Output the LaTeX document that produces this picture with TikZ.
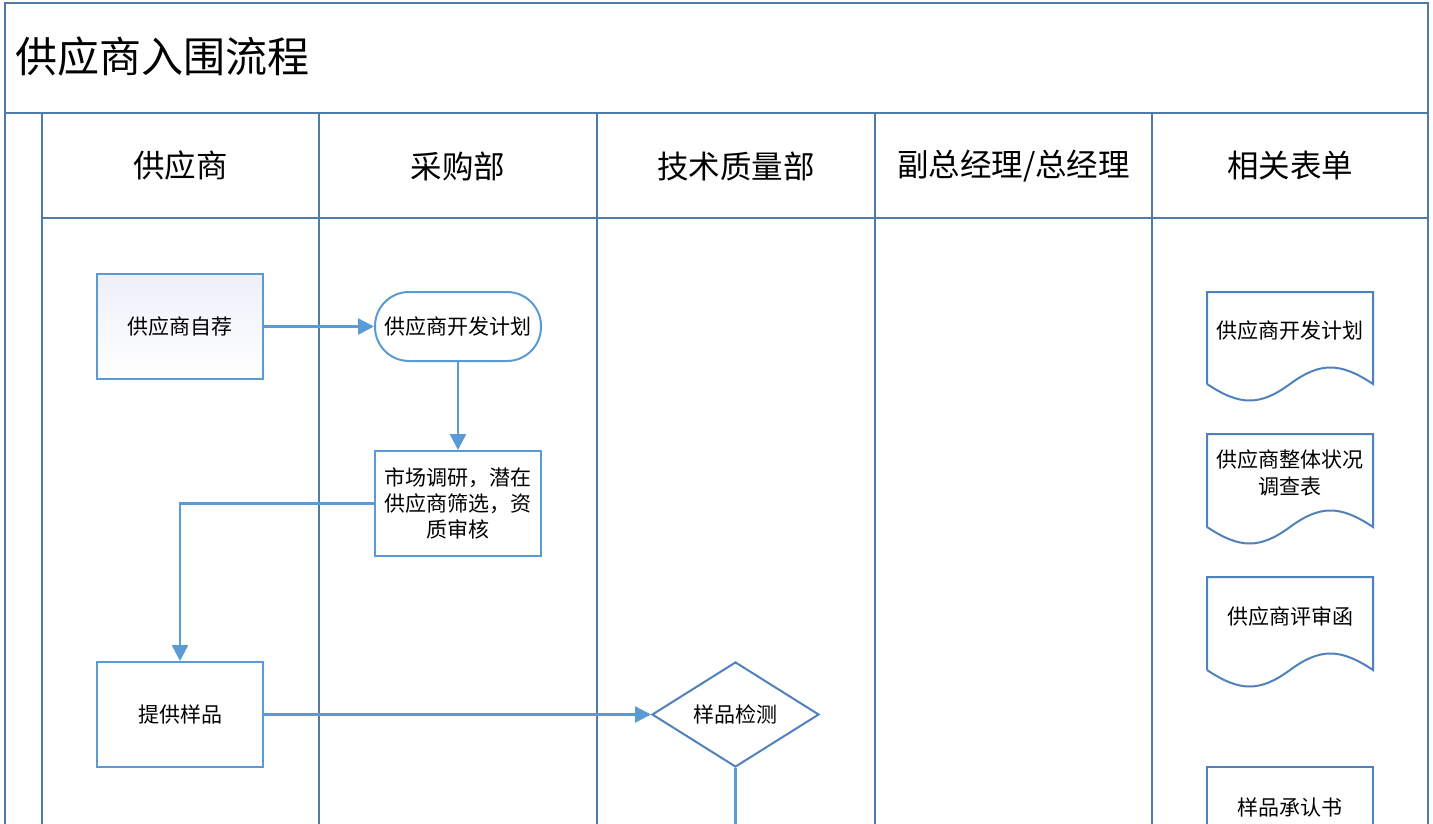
\documentclass[tikz,border=0pt]{standalone}
\usepackage{fontspec}
\setmainfont{Noto Sans CJK SC}
\usetikzlibrary{arrows.meta,shapes.geometric}
\definecolor{frame}{HTML}{4F7BA8}
\definecolor{procb}{HTML}{5B9BD5}
\definecolor{docb}{HTML}{4F81BD}
\definecolor{conn}{HTML}{5B9BD5}
\definecolor{tint}{HTML}{EEF0FA}
\tikzset{
  framel/.style={draw=frame,line width=2.8pt},
  proc/.style={draw=procb,line width=2pt,fill=white,minimum width=166pt,minimum height=105pt,inner sep=0pt,align=center,font=\fontsize{21}{26}\selectfont},
  stadium/.style={draw=procb,line width=2pt,fill=white,minimum width=166pt,minimum height=69pt,rounded corners=34pt,inner sep=0pt,font=\fontsize{21}{26}\selectfont},
  decide/.style={diamond,draw=docb,line width=2pt,fill=white,minimum width=167pt,minimum height=105pt,aspect=1.59,inner sep=0pt,font=\fontsize{21}{26}\selectfont},
  doctext/.style={align=center,font=\fontsize{21}{27}\selectfont},
  docshape/.style={draw=docb,line width=2pt},
  header/.style={font=\fontsize{31.5}{36}\selectfont},
  conn/.style={draw=conn,line width=2.5pt},
  arr/.style={conn,-{Triangle[length=16pt,width=16pt]}}
}
\begin{document}
\begin{tikzpicture}[x=1pt,y=-1pt]
\useasboundingbox (0,0) rectangle (1433,824);
% frame
\draw[framel] (5,824) -- (5,3) -- (1428,3) -- (1428,824);
\draw[framel] (5,113) -- (1428,113);
\draw[framel] (42,218) -- (1428,218);
\foreach \x in {42,319,597,875,1152} \draw[framel] (\x,113) -- (\x,824);
% title and headers
\node[anchor=west,font=\fontsize{42}{46}\selectfont] (title) at (12,57) {供应商入围流程};
\node[header] (h1) at (180.5,166) {供应商};
\node[header] (h2) at (458,166) {采购部};
\node[header] (h3) at (736,166) {技术质量部};
\node[header] (h4) at (1013.5,166) {副总经理/总经理};
\node[header] (h5) at (1290,166) {相关表单};
% process nodes
\node[proc,shading angle=135,top color=tint,bottom color=white] (self) at (180,326.5) {供应商自荐};
\node[stadium] (plan) at (458,326.5) {供应商开发计划};
\node[proc] (survey) at (458,503.5) {市场调研，潜在\\供应商筛选，资\\质审核};
\node[proc] (sample) at (180,714.5) {提供样品};
\node[decide] (test) at (735.5,714.5) {样品检测};
\coordinate (testend) at (735.5,824);
% connectors
\draw[arr] (self.east) -- (plan.west);
\draw[arr] (plan.south) -- (survey.north);
\draw[arr] (survey.west) -| (sample.north);
\draw[arr] (sample.east) -- (test.west);
\draw[conn] (test.south) -- (testend);
% documents
\foreach \t/\b in {292/384,434/527,577/670}{
  \draw[docshape] (1207,\b) -- (1207,\t) -- (1373,\t) -- (1373,\b)
    .. controls (1340,\b-22) and (1320,\b-22) .. (1290,\b)
    .. controls (1260,\b+22) and (1240,\b+22) .. (1207,\b);
}
\draw[docshape] (1207,824) -- (1207,767) -- (1373,767) -- (1373,824);
\node[doctext] (d1) at (1290,331) {供应商开发计划};
\node[doctext] (d2) at (1290,472.5) {供应商整体状况\\调查表};
\node[doctext] (d3) at (1290,617) {供应商评审函};
\node[doctext] (d4) at (1290,807) {样品承认书};
\end{tikzpicture}
\end{document}
